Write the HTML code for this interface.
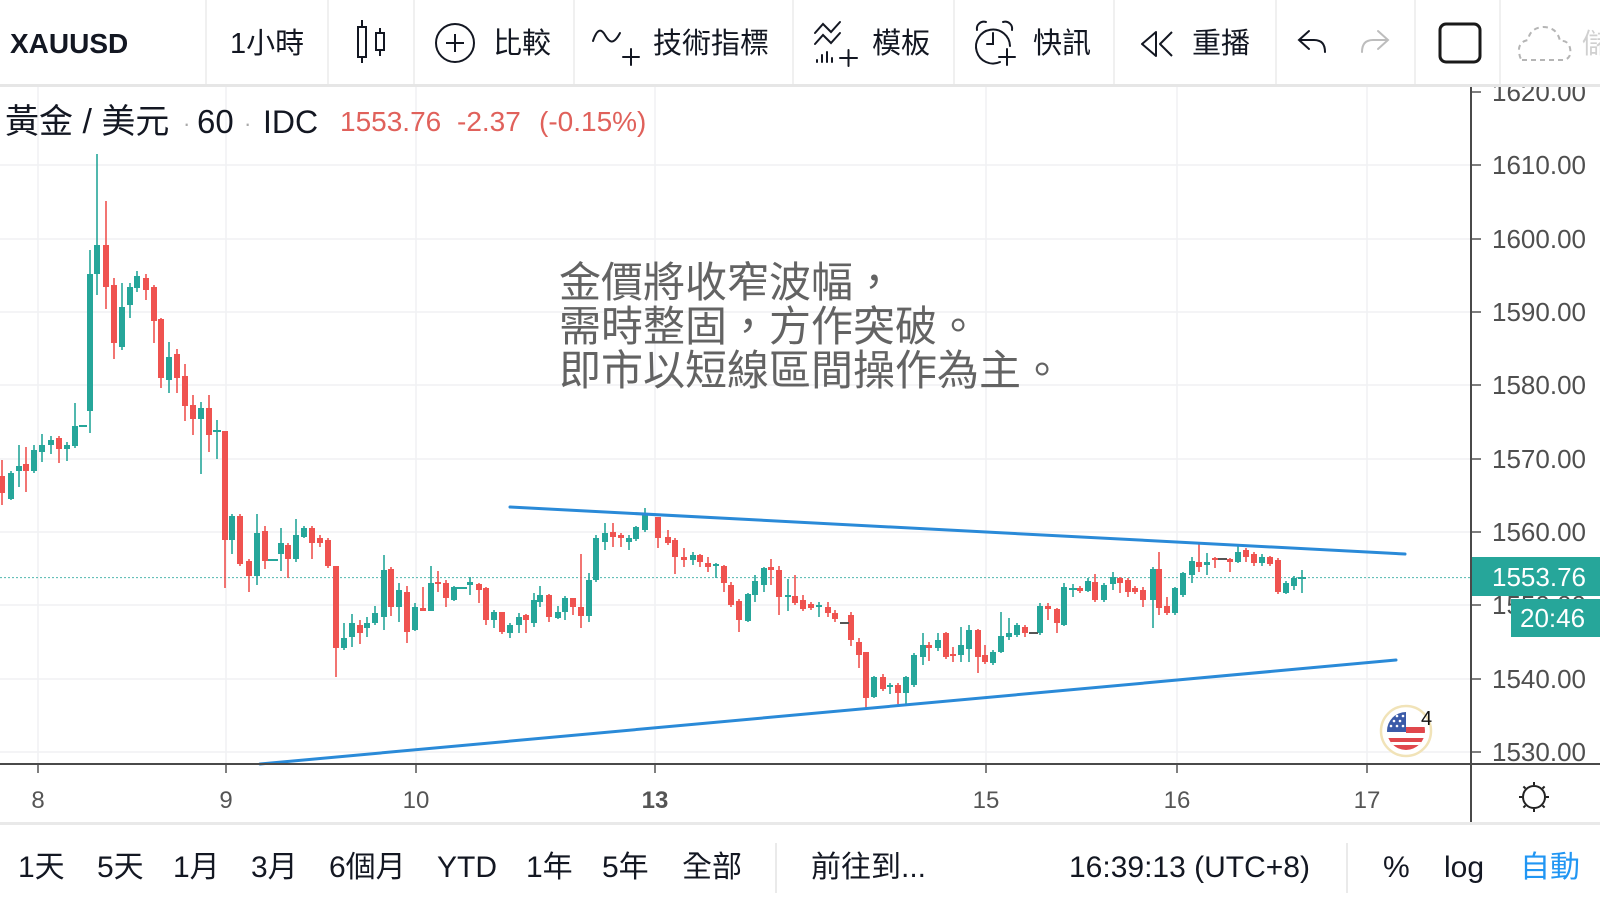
<!DOCTYPE html>
<html><head><meta charset="utf-8">
<style>
html,body{margin:0;padding:0;background:#fff;}
body{width:1600px;height:908px;overflow:hidden;position:relative;}
svg{position:absolute;left:0;top:0;}
text{font-family:"Liberation Sans","Noto Sans CJK TC",sans-serif;}
.tb{font-size:29px;fill:#131722;}
.px{font-size:26px;fill:#4f4f4f;}
.dt{font-size:24px;fill:#555;}
.bb{font-size:30px;fill:#131722;}
.ann{font-size:42px;fill:#636363;font-family:"Noto Sans CJK TC","Liberation Sans",sans-serif;}
</style></head><body>
<svg width="1600" height="908" viewBox="0 0 1600 908">
<rect width="1600" height="908" fill="#fff"/>
<g stroke="#f0f1f4" stroke-width="1.5">
<path d="M0 165H1471M0 239H1471M0 312H1471M0 385H1471M0 459H1471M0 532H1471M0 605H1471M0 679H1471M0 752H1471"/>
<path d="M38 86V764M226 86V764M416 86V764M655 86V764M986 86V764M1177 86V764M1367 86V764"/>
</g>
<line x1="0" y1="577.6" x2="1471" y2="577.6" stroke="#26a69a" stroke-width="1" stroke-dasharray="2 2" opacity="0.8"/>

<text class="ann" x="559" y="297">金價將收窄波幅，</text>
<text class="ann" x="559" y="341">需時整固，方作突破。</text>
<text class="ann" x="559" y="385">即市以短線區間操作為主。</text>

<g fill="#26a69a" stroke="none">
<path stroke="#26a69a" stroke-width="1.6" fill="none" d="M11 471V500M19 445V487M34 445V473M42 434V462M51 436V454M67 442V461M75 403V448M90 250V433M97 154V295M122 283V350M130 283V318M137 271V292M169 342V393M201 402V474M217 420V459M232 514V554M257 514V585M281 528V571M296 519V562M304 526V538M344 623V650M352 614V647M367 617V637M375 606V625M384 555V630M399 583V622M415 603V631M431 566V611M454 586V601M470 577V595M494 610V628M510 623V638M519 613V633M534 593V627M540 586V607M558 606V619M565 596V620M589 573V622M596 535V582M605 523V550M629 535V550M636 526V541M645 508V532M693 552V565M716 563V578M748 593V622M755 575V602M764 567V592M788 579V611M819 602V617M874 676V698M890 683V694M906 676V705M914 653V687M923 633V665M938 633V651M961 627V662M969 625V662M993 650V665M1001 612V653M1009 618V640M1017 623V637M1040 603V635M1064 583V626M1073 584V597M1088 578V592M1104 583V602M1113 572V590M1153 567V628M1175 587V615M1183 572V597M1192 557V583M1207 553V575M1238 545V563M1262 554V566M1286 581V594M1294 576V590M1302 570V593"/>
<rect x="8" y="473" width="6" height="26"/><rect x="16" y="466" width="6" height="5"/><rect x="31" y="450" width="6" height="21"/><rect x="39" y="445" width="6" height="7"/><rect x="48" y="440" width="6" height="5"/><rect x="64" y="445" width="6" height="4"/><rect x="72" y="426" width="6" height="20"/><rect x="79" y="425" width="8" height="2"/><rect x="87" y="274" width="6" height="137"/><rect x="94" y="245" width="6" height="29"/><rect x="119" y="307" width="6" height="40"/><rect x="127" y="287" width="6" height="18"/><rect x="134" y="276" width="6" height="12"/><rect x="166" y="357" width="6" height="23"/><rect x="198" y="408" width="6" height="11"/><rect x="213" y="430" width="8" height="2"/><rect x="229" y="516" width="6" height="24"/><rect x="254" y="533" width="6" height="43"/><rect x="268" y="559" width="10" height="2"/><rect x="278" y="543" width="6" height="11"/><rect x="293" y="535" width="6" height="24"/><rect x="301" y="528" width="6" height="9"/>
<rect x="341" y="638" width="6" height="10"/><rect x="349" y="623" width="6" height="14"/><rect x="364" y="623" width="6" height="5"/><rect x="372" y="613" width="6" height="10"/><rect x="381" y="570" width="6" height="47"/><rect x="396" y="590" width="6" height="17"/><rect x="412" y="607" width="6" height="23"/><rect x="428" y="583" width="6" height="28"/><rect x="451" y="587" width="6" height="13"/><rect x="457" y="587" width="10" height="2"/><rect x="467" y="582" width="6" height="3"/><rect x="491" y="612" width="6" height="8"/><rect x="507" y="625" width="6" height="8"/><rect x="516" y="617" width="6" height="8"/><rect x="531" y="600" width="6" height="23"/><rect x="537" y="595" width="6" height="7"/><rect x="555" y="612" width="6" height="6"/><rect x="562" y="598" width="6" height="14"/><rect x="586" y="580" width="6" height="36"/><rect x="593" y="538" width="6" height="42"/><rect x="602" y="533" width="6" height="9"/><rect x="626" y="538" width="6" height="4"/><rect x="633" y="527" width="6" height="12"/><rect x="642" y="513" width="6" height="17"/>
<rect x="690" y="555" width="6" height="5"/><rect x="713" y="564" width="6" height="2"/><rect x="745" y="594" width="6" height="27"/><rect x="752" y="581" width="6" height="14"/><rect x="761" y="568" width="6" height="17"/><rect x="785" y="595" width="6" height="2"/><rect x="816" y="605" width="6" height="2"/><rect x="871" y="677" width="6" height="20"/><rect x="887" y="685" width="6" height="2"/><rect x="903" y="677" width="6" height="16"/><rect x="911" y="655" width="6" height="30"/><rect x="920" y="645" width="6" height="12"/><rect x="935" y="640" width="6" height="8"/><rect x="958" y="645" width="6" height="10"/><rect x="966" y="630" width="6" height="19"/><rect x="990" y="652" width="6" height="11"/><rect x="998" y="636" width="6" height="16"/><rect x="1006" y="633" width="6" height="4"/><rect x="1014" y="625" width="6" height="10"/><rect x="1037" y="606" width="6" height="27"/><rect x="1061" y="587" width="6" height="38"/><rect x="1069" y="588" width="8" height="2"/><rect x="1085" y="581" width="6" height="10"/><rect x="1101" y="585" width="6" height="15"/><rect x="1110" y="577" width="6" height="7"/><rect x="1150" y="569" width="6" height="31"/><rect x="1172" y="588" width="6" height="25"/><rect x="1180" y="573" width="6" height="22"/><rect x="1189" y="561" width="6" height="14"/><rect x="1204" y="562" width="6" height="3"/><rect x="1235" y="552" width="6" height="10"/><rect x="1259" y="557" width="6" height="6"/><rect x="1283" y="583" width="6" height="10"/><rect x="1291" y="578" width="6" height="8"/><rect x="1298" y="577" width="8" height="2"/>
</g>
<g fill="#ef5350" stroke="none">
<path stroke="#ef5350" stroke-width="1.6" fill="none" d="M2 460V505M26 447V492M59 436V463M106 201V309M114 278V359M146 274V300M154 285V343M161 318V388M177 349V393M185 364V421M193 395V435M209 395V452M225 431V588M240 514V566M249 559V592M265 526V569M288 543V578M312 526V559M320 535V547M328 538V568M336 566V677M360 620V644M391 567V616M407 586V643M423 587V611M438 571V592M446 580V607M479 583V603M486 587V625M502 612V634M526 614V633M549 594V622M573 598V615M581 554V628M613 523V547M621 533V547M658 517V548M668 530V545M675 538V574M684 548V567M700 554V567M708 557V572M724 565V592M731 582V607M739 599V632M771 559V585M779 566V615M795 575V605M803 595V611M811 602V610M828 602V617M835 610V622M851 612V646M859 638V668M866 652V710M883 674V691M898 683V704M929 642V661M946 632V659M953 647V662M978 629V673M985 645V664M1025 625V637M1048 603V620M1057 608V633M1080 586V593M1095 574V602M1120 577V593M1128 578V597M1135 586V594M1143 587V607M1159 552V615M1167 597V615M1199 543V572M1215 557V568M1230 558V572M1246 548V562M1254 552V566M1270 556V566M1278 558V594"/>
<rect x="-1" y="476" width="6" height="17"/><rect x="23" y="464" width="6" height="7"/><rect x="56" y="438" width="6" height="11"/><rect x="103" y="245" width="6" height="42"/><rect x="111" y="285" width="6" height="58"/><rect x="143" y="278" width="6" height="12"/><rect x="151" y="287" width="6" height="34"/><rect x="158" y="319" width="6" height="59"/><rect x="174" y="354" width="6" height="24"/><rect x="182" y="376" width="6" height="30"/><rect x="190" y="405" width="6" height="14"/><rect x="206" y="408" width="6" height="27"/><rect x="222" y="431" width="6" height="109"/><rect x="237" y="516" width="6" height="48"/><rect x="246" y="561" width="6" height="15"/><rect x="262" y="531" width="6" height="30"/><rect x="285" y="545" width="6" height="14"/><rect x="309" y="528" width="6" height="15"/><rect x="317" y="538" width="6" height="5"/><rect x="325" y="540" width="6" height="26"/><rect x="333" y="566" width="6" height="82"/>
<rect x="357" y="625" width="6" height="8"/><rect x="388" y="569" width="6" height="38"/><rect x="404" y="592" width="6" height="40"/><rect x="420" y="608" width="6" height="3"/><rect x="435" y="582" width="6" height="2"/><rect x="443" y="583" width="6" height="15"/><rect x="476" y="584" width="6" height="6"/><rect x="483" y="588" width="6" height="32"/><rect x="499" y="612" width="6" height="20"/><rect x="523" y="615" width="6" height="5"/><rect x="546" y="595" width="6" height="22"/><rect x="570" y="598" width="6" height="9"/><rect x="578" y="607" width="6" height="9"/><rect x="610" y="532" width="6" height="5"/><rect x="618" y="535" width="6" height="3"/>
<rect x="655" y="517" width="6" height="21"/><rect x="665" y="537" width="6" height="6"/><rect x="672" y="540" width="6" height="17"/><rect x="681" y="557" width="6" height="3"/><rect x="697" y="555" width="6" height="7"/><rect x="705" y="563" width="6" height="4"/><rect x="721" y="566" width="6" height="17"/><rect x="728" y="585" width="6" height="20"/><rect x="736" y="601" width="6" height="19"/><rect x="768" y="567" width="6" height="3"/><rect x="776" y="570" width="6" height="27"/><rect x="792" y="596" width="6" height="7"/><rect x="800" y="600" width="6" height="9"/><rect x="808" y="604" width="6" height="4"/><rect x="825" y="607" width="6" height="6"/><rect x="832" y="613" width="6" height="6"/><rect x="848" y="615" width="6" height="25"/><rect x="856" y="642" width="6" height="13"/><rect x="863" y="652" width="6" height="46"/><rect x="880" y="677" width="6" height="12"/><rect x="895" y="685" width="6" height="8"/><rect x="926" y="645" width="6" height="3"/><rect x="943" y="633" width="6" height="24"/><rect x="950" y="654" width="6" height="2"/><rect x="975" y="630" width="6" height="27"/><rect x="982" y="655" width="6" height="7"/>
<rect x="1022" y="627" width="6" height="6"/><rect x="1045" y="606" width="6" height="3"/><rect x="1054" y="609" width="6" height="14"/><rect x="1077" y="588" width="6" height="3"/><rect x="1092" y="582" width="6" height="18"/><rect x="1117" y="578" width="6" height="5"/><rect x="1125" y="580" width="6" height="12"/><rect x="1132" y="588" width="6" height="4"/><rect x="1140" y="590" width="6" height="10"/><rect x="1156" y="569" width="6" height="39"/><rect x="1164" y="606" width="6" height="7"/><rect x="1196" y="562" width="6" height="5"/><rect x="1212" y="558" width="6" height="2"/><rect x="1227" y="559" width="6" height="3"/><rect x="1243" y="550" width="6" height="7"/><rect x="1251" y="554" width="6" height="9"/><rect x="1267" y="557" width="6" height="7"/><rect x="1275" y="560" width="6" height="32"/>
</g>
<g fill="#555"><rect x="840" y="622" width="9" height="2"/><rect x="1029" y="632" width="9" height="2"/><rect x="1218" y="558" width="9" height="2"/></g>

<g stroke="#2a8ad8" stroke-width="3" stroke-linecap="round">
<line x1="510" y1="507" x2="1405" y2="554"/>
<line x1="260" y1="764" x2="1396" y2="660"/>
</g>

<g>
<circle cx="1406" cy="731" r="25" fill="#fff" stroke="#f1e3b8" stroke-width="2.5"/>
<clipPath id="fc"><circle cx="1406" cy="731" r="19"/></clipPath>
<g clip-path="url(#fc)">
<rect x="1386" y="711" width="40" height="40" fill="#fff"/>
<rect x="1386" y="711" width="20" height="21" fill="#3b5ba8"/>
<rect x="1406" y="727" width="20" height="6" fill="#e0474c"/>
<rect x="1386" y="738" width="40" height="14" fill="#e0474c"/>
<rect x="1386" y="742" width="40" height="3" fill="#fff"/>
<g fill="#fff"><circle cx="1391" cy="716" r="1.3"/><circle cx="1397" cy="716" r="1.3"/><circle cx="1403" cy="716" r="1.3"/><circle cx="1394" cy="721" r="1.3"/><circle cx="1400" cy="721" r="1.3"/><circle cx="1391" cy="726" r="1.3"/><circle cx="1397" cy="726" r="1.3"/><circle cx="1403" cy="726" r="1.3"/></g>
</g>
<text x="1421" y="725" font-size="20" fill="#111">4</text>
</g>

<g>
<text class="px" x="1492" y="101">1620.00</text>
<text class="px" x="1492" y="174">1610.00</text>
<text class="px" x="1492" y="248">1600.00</text>
<text class="px" x="1492" y="321">1590.00</text>
<text class="px" x="1492" y="394">1580.00</text>
<text class="px" x="1492" y="468">1570.00</text>
<text class="px" x="1492" y="541">1560.00</text>
<text class="px" x="1492" y="614">1550.00</text>
<text class="px" x="1492" y="688">1540.00</text>
<text class="px" x="1492" y="761">1530.00</text>
</g>
<path d="M1471 92H1481M1471 165H1481M1471 239H1481M1471 312H1481M1471 385H1481M1471 459H1481M1471 532H1481M1471 605H1481M1471 679H1481M1471 752H1481" stroke="#555" stroke-width="1.5"/>

<rect x="1471" y="557" width="129" height="39" fill="#26a69a"/>
<text x="1492" y="586" font-size="26" fill="#fff">1553.76</text>
<rect x="1511" y="599" width="89" height="38" fill="#26a69a"/>
<text x="1520" y="627" font-size="26" fill="#fff">20:46</text>

<line x1="0" y1="764" x2="1600" y2="764" stroke="#4a4a4a" stroke-width="2"/>
<line x1="1471" y1="86" x2="1471" y2="823" stroke="#4a4a4a" stroke-width="2"/>
<path d="M38 765V773M226 765V773M416 765V773M655 765V773M986 765V773M1177 765V773M1367 765V773" stroke="#555" stroke-width="1.5"/>
<g text-anchor="middle">
<text class="dt" x="38" y="808">8</text>
<text class="dt" x="226" y="808">9</text>
<text class="dt" x="416" y="808">10</text>
<text class="dt" x="655" y="808" font-weight="bold" fill="#333">13</text>
<text class="dt" x="986" y="808">15</text>
<text class="dt" x="1177" y="808">16</text>
<text class="dt" x="1367" y="808">17</text>
</g>
<g stroke="#222" stroke-width="2" fill="none">
<circle cx="1534" cy="797" r="11"/>
<path d="M1534 782V785M1534 809V812M1519 797H1522M1546 797H1549M1523.4 786.4L1525.5 788.5M1542.5 805.5L1544.6 807.6M1523.4 807.6L1525.5 805.5M1542.5 788.5L1544.6 786.4"/>
</g>

<rect x="0" y="822" width="1600" height="3" fill="#e9e9e9"/>
<rect x="0" y="825" width="1600" height="83" fill="#fff"/>
<g>
<text class="bb" x="18" y="877">1天</text>
<text class="bb" x="97" y="877">5天</text>
<text class="bb" x="173" y="877">1月</text>
<text class="bb" x="251" y="877">3月</text>
<text class="bb" x="329" y="877">6個月</text>
<text class="bb" x="437" y="877" font-size="29">YTD</text>
<text class="bb" x="526" y="877">1年</text>
<text class="bb" x="602" y="877">5年</text>
<text class="bb" x="682" y="877">全部</text>
<text class="bb" x="811" y="877">前往到...</text>
<text class="bb" x="1069" y="877">16:39:13 (UTC+8)</text>
<text class="bb" x="1383" y="877">%</text>
<text class="bb" x="1444" y="877">log</text>
<text x="1520" y="877" font-size="30" fill="#2196f3">自動</text>
</g>
<path d="M776 843V893M1347 843V893" stroke="#e3e3e3" stroke-width="1.5"/>

<rect x="0" y="0" width="1600" height="85" fill="#fff"/>
<rect x="0" y="84" width="1600" height="3" fill="#e6e6e6"/>
<path d="M206 0V84M328 0V84M414 0V84M574 0V84M793 0V84M954 0V84M1114 0V84M1276 0V84M1415 0V84M1500 0V84" stroke="#ececec" stroke-width="1.5"/>
<text x="10" y="53" font-size="28" font-weight="bold" fill="#131722">XAUUSD</text>
<text class="tb" x="230" y="53" font-size="28">1小時</text>
<g stroke="#131722" stroke-width="2" fill="#fff">
<line x1="362" y1="20" x2="362" y2="63"/><rect x="358" y="27" width="8" height="30"/>
<line x1="380" y1="28" x2="380" y2="56"/><rect x="376" y="33" width="8" height="17"/>
</g>
<g stroke="#131722" stroke-width="2" fill="none">
<circle cx="455" cy="43" r="19"/><path d="M446 43H464M455 34V52"/>
</g>
<text class="tb" x="493" y="53">比較</text>
<g stroke="#131722" stroke-width="2" fill="none" stroke-linecap="round">
<path d="M593 41C597 29 601 28 605 35S613 46 620 33"/>
<path d="M623 57H639M631 49V65"/>
</g>
<text class="tb" x="653" y="53">技術指標</text>
<g stroke="#131722" stroke-width="2" fill="none" stroke-linecap="round">
<path d="M815 33L823 24L831 32L840 22"/>
<path d="M815 44L823 35L831 43L840 33"/>
<path d="M817 62V60M822 62V55M827 62V52M832 62V58"/>
<path d="M840 58H857M848.5 50V66"/>
</g>
<text class="tb" x="872" y="53">模板</text>
<g stroke="#131722" stroke-width="2" fill="none" stroke-linecap="round">
<path d="M1000 62A17 17 0 1 1 1010 46"/>
<path d="M977 30A7 7 0 0 1 986 22M1003 22A7 7 0 0 1 1012 30"/>
<path d="M993 33V44H987"/>
<path d="M999 57H1015M1007 49V65"/>
</g>
<text class="tb" x="1033" y="53">快訊</text>
<g stroke="#131722" stroke-width="2" fill="none" stroke-linejoin="round">
<path d="M1156 32L1142 44L1156 56Z"/>
<path d="M1172 32L1160 44L1172 56"/>
</g>
<text class="tb" x="1192" y="53">重播</text>
<g stroke="#131722" stroke-width="2" fill="none" stroke-linecap="round">
<path d="M1309 31L1299 40L1309 49M1299 40H1314Q1325 40 1325 52"/>
</g>
<g stroke="#bdbdbd" stroke-width="2" fill="none" stroke-linecap="round">
<path d="M1378 31L1388 40L1378 49M1388 40H1373Q1362 40 1362 52"/>
</g>
<rect x="1440" y="24" width="40" height="38" rx="6" fill="none" stroke="#1a1a1a" stroke-width="3"/>
<path d="M1522 60H1564Q1572 58 1570 48Q1568 40 1560 41Q1557 27 1543 27Q1530 28 1528 40Q1518 42 1519 52Q1520 59 1522 60" fill="none" stroke="#b5b5b5" stroke-width="2" stroke-dasharray="5 4"/>
<text x="1582" y="53" font-size="28" fill="#d0d0d0">儲</text>

<text x="5" y="133" font-size="34" fill="#131722">黃金 / 美元</text>
<text x="183" y="131" font-size="22" fill="#aaa">·</text>
<text x="197" y="133" font-size="33" fill="#131722">60</text>
<text x="244" y="131" font-size="22" fill="#aaa">·</text>
<text x="263" y="133" font-size="32" fill="#131722">IDC</text>
<text x="340" y="131" font-size="28" fill="#e0615b">1553.76</text>
<text x="457" y="131" font-size="28" fill="#e0615b">-2.37</text>
<text x="539" y="131" font-size="28" fill="#e0615b">(-0.15%)</text>
</svg>
</body></html>
